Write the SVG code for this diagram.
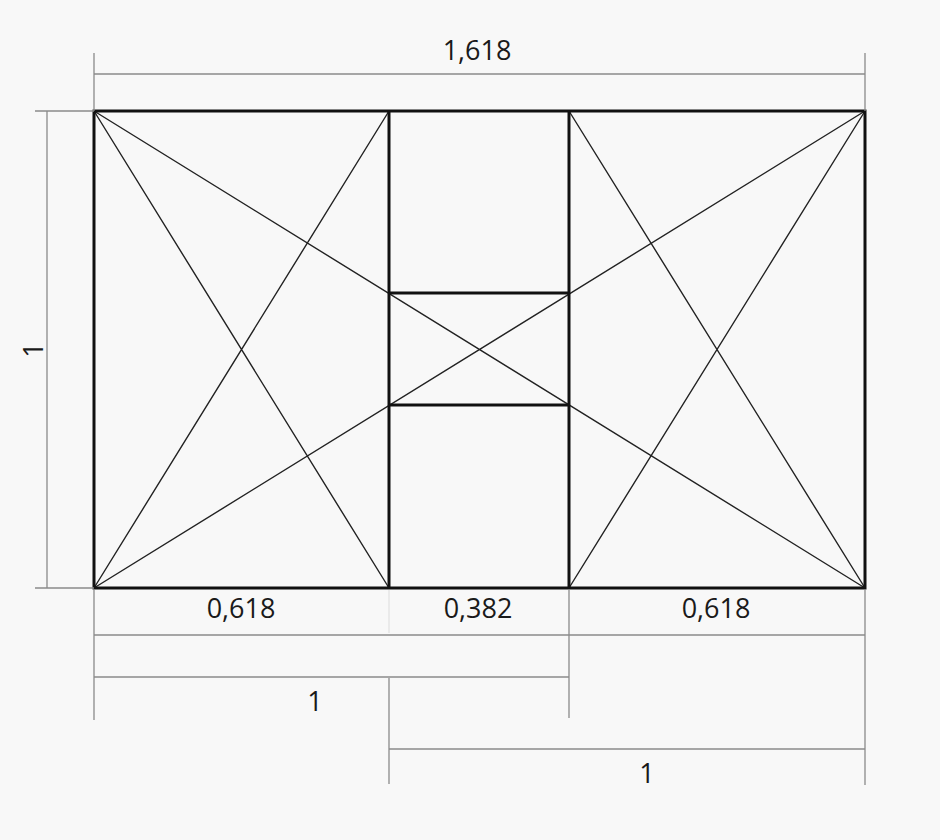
<svg xmlns="http://www.w3.org/2000/svg" width="940" height="840" viewBox="0 0 940 840">
<style>
.thin{stroke:#8a8a8a;stroke-width:1.3;fill:none}
.faint{stroke:#e2e2e2;stroke-width:1.3;fill:none}
.thick{stroke:#111;stroke-width:3;fill:none}
.diag{stroke:#222;stroke-width:1.4;fill:none}
.lbl{font-family:"Open Sans","DejaVu Sans",sans-serif;font-size:27px;fill:#1a1a1a;text-anchor:middle}
</style>
<rect x="0" y="0" width="940" height="840" fill="#f8f8f8"/>
<g id="connectors">
<path class="diag" d="M94,111 L389,588 M389,111 L94,588 M94,111 L865,588 M94,588 L865,111 M569,111 L865,588 M569,588 L865,111"/>
</g>
<g id="frame">
<rect class="thick" x="94" y="111" width="771" height="477"/>
<path class="thick" d="M389,111 V588 M569,111 V588 M389,293 H569 M389,405 H569"/>
</g>
<g id="dimensions">
<path class="thin" d="M94,53 V111 M865,53 V111 M94,74 H865"/>
<path class="thin" d="M35,111 H94 M35,588 H94 M47,111 V588"/>
<path class="faint" d="M389,590 V633"/>
<path class="thin" d="M94,590 V720 M569,590 V718 M865,590 V785 M389,678 V784"/>
<path class="thin" d="M94,635 H865 M94,677 H569 M389,749 H865"/>
</g>
<g id="labels">
<text class="lbl" x="477" y="60">1,618</text>
<text class="lbl" x="0" y="0" transform="translate(43,350) rotate(-90)">1</text>
<text class="lbl" x="241" y="618">0,618</text>
<text class="lbl" x="478" y="618">0,382</text>
<text class="lbl" x="716" y="618">0,618</text>
<text class="lbl" x="315" y="711">1</text>
<text class="lbl" x="647" y="783">1</text>
</g>
</svg>
